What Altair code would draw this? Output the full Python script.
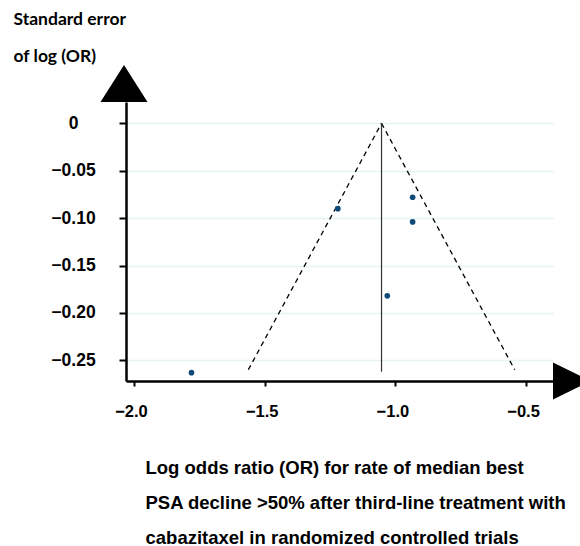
import altair as alt
import pandas as pd

# Study estimates: log odds ratio and (negated) standard error of log(OR)
log_or = [-1.78, -1.22, -0.934, -0.934, -1.031]
se_log_or = [-0.263, -0.090, -0.078, -0.104, -0.182]

# Pooled estimate and 95% pseudo-confidence funnel
pooled_log_or = -1.053
funnel_se_limit = -0.26
z95 = 1.96
pooled_line_se = [0.0, -0.262]

x_ticks = [-2.0, -1.5, -1.0, -0.5]
y_ticks = [0, -0.05, -0.10, -0.15, -0.20, -0.25]

X_DOMAIN = [-2.0305, -0.397]
Y_DOMAIN = [-0.2718, 0.0225]

x_title = [
    "Log odds ratio (OR) for rate of median best",
    "PSA decline >50% after third-line treatment  with",
    "cabazitaxel in randomized controlled trials",
]
y_title = ["Standard error", "of log (OR)"]

studies = pd.DataFrame({"log_or": log_or, "se": se_log_or})

half = z95 * abs(funnel_se_limit)
funnel = pd.DataFrame({
    "log_or": [pooled_log_or, pooled_log_or - half, pooled_log_or, pooled_log_or + half],
    "se": [0.0, funnel_se_limit, 0.0, funnel_se_limit],
    "side": ["left", "left", "right", "right"],
})
pooled = pd.DataFrame({"log_or": [pooled_log_or] * 2, "se": pooled_line_se})

x_scale = alt.Scale(domain=X_DOMAIN, nice=False, zero=False)
y_scale = alt.Scale(domain=Y_DOMAIN, nice=False, zero=False)

LABEL_FONT = "Liberation Sans"

x_axis = alt.Axis(
    values=x_ticks, format=".1f", title=x_title,
    domainColor="black", domainWidth=2.5,
    tickColor="black", tickWidth=2, tickSize=5,
    labelFont=LABEL_FONT, labelFontWeight="bold", labelFontSize=16.5,
    labelColor="black", labelPadding=17, labelOffset=-3,
    grid=False,
    titleFont=LABEL_FONT, titleFontWeight="bold", titleFontSize=18.5,
    titleColor="black", titleAlign="left", titleAnchor="start",
    titleBaseline="top", titleLineHeight=35, titleX=19, titleY=77,
)
y_axis = alt.Axis(
    values=y_ticks,
    labelExpr="datum.value == 0 ? '0' : format(datum.value, '.2f')",
    title=y_title,
    domainColor="black", domainWidth=2.5,
    tickColor="black", tickWidth=2, tickSize=7,
    labelFont=LABEL_FONT, labelFontWeight="bold", labelFontSize=17.5,
    labelColor="black", labelAlign="center", labelPadding=46,
    grid=True, gridColor="#e8f2f2", gridWidth=1.5,
    titleFont="Lato", titleFontWeight="bold", titleFontSize=17.5,
    titleColor="black", titleAngle=0, titleAlign="left", titleAnchor="start",
    titleBaseline="top", titleLineHeight=37, titleX=-113, titleY=-92,
)

funnel_lines = alt.Chart(funnel).mark_line(
    color="black", strokeWidth=1.3, strokeDash=[5, 4]
).encode(
    x=alt.X("log_or:Q", scale=x_scale, axis=x_axis),
    y=alt.Y("se:Q", scale=y_scale, axis=y_axis),
    detail="side:N",
)

pooled_line = alt.Chart(pooled).mark_line(color="#333333", strokeWidth=1.2).encode(
    x=alt.X("log_or:Q", scale=x_scale),
    y=alt.Y("se:Q", scale=y_scale),
)

points = alt.Chart(studies).mark_circle(color="#0d4a78", size=32, opacity=1).encode(
    x=alt.X("log_or:Q", scale=x_scale),
    y=alt.Y("se:Q", scale=y_scale),
)

# Arrowheads at the open ends of both axes
top_arrow = alt.Chart(pd.DataFrame({"log_or": [X_DOMAIN[0]], "se": [Y_DOMAIN[1]]})).mark_point(
    shape="M-1,0L0,-1.574L1,0Z", filled=True, color="black", opacity=1,
    size=2209, strokeWidth=0, xOffset=-2,
).encode(x=alt.X("log_or:Q", scale=x_scale), y=alt.Y("se:Q", scale=y_scale))

right_arrow = alt.Chart(pd.DataFrame({"log_or": [X_DOMAIN[1]], "se": [Y_DOMAIN[0]]})).mark_point(
    shape="M0,-0.787L1.6,0L0,0.787Z", filled=True, color="black", opacity=1,
    size=2209, strokeWidth=0,
).encode(x=alt.X("log_or:Q", scale=x_scale), y=alt.Y("se:Q", scale=y_scale))

chart = alt.layer(
    funnel_lines, pooled_line, points, top_arrow, right_arrow
).properties(
    width=427, height=279,
    autosize=alt.AutoSizeParams(type="none"),
    padding={"left": 126, "top": 102, "right": 27, "bottom": 165},
    background="white",
).configure_view(stroke=None)

chart.save("out.html", embed_options={"renderer": "svg", "actions": False})
